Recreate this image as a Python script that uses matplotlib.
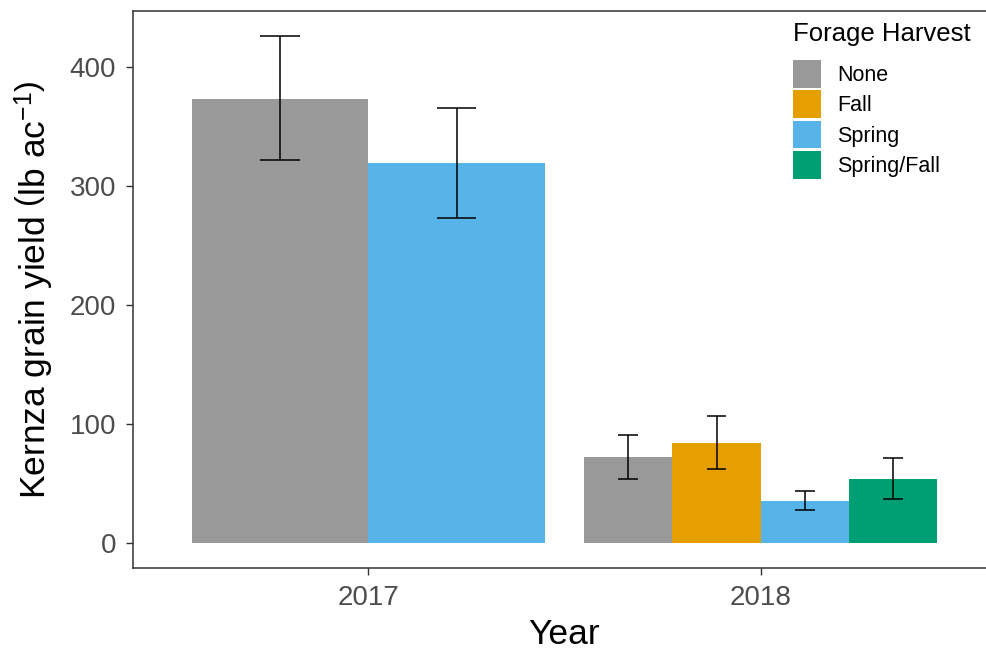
import matplotlib
matplotlib.use("Agg")
import matplotlib.pyplot as plt
from matplotlib.patches import Patch

plt.rcParams['font.family'] = ['Liberation Sans', 'DejaVu Sans']
plt.rcParams['mathtext.fontset'] = 'custom'
plt.rcParams['mathtext.rm'] = 'Liberation Sans'
plt.rcParams['mathtext.it'] = 'Liberation Sans:italic'

# ---- data ----
years = ['2017', '2018']
treatments = ['None', 'Fall', 'Spring', 'Spring/Fall']
colors = ['#999999', '#E69F00', '#56B4E9', '#009E73']

bar_year = ['2017', '2017', '2018', '2018', '2018', '2018']
bar_trt = ['None', 'Spring', 'None', 'Fall', 'Spring', 'Spring/Fall']
yield_mean = [373.0, 319.0, 71.6, 83.6, 35.2, 53.7]
err_low = [321.2, 272.8, 53.7, 61.5, 27.1, 36.9]
err_high = [425.4, 365.6, 90.6, 106.5, 43.6, 71.0]

# ---- figure ----
fig = plt.figure(figsize=(9.86, 6.49), dpi=100)
ax = fig.add_axes([133/986, 81/649, (996-133)/986, (568-11)/649])

dodge_total = 0.9
err_total = 0.2
ink = '#333333'

for yi, yr in enumerate(years):
    idx = [i for i, y in enumerate(bar_year) if y == yr]
    n = len(idx)
    w = dodge_total / n
    ew = err_total / n
    center = yi + 1
    for k, i in enumerate(idx):
        x = center - dodge_total / 2 + (k + 0.5) * w
        c = colors[treatments.index(bar_trt[i])]
        ax.bar(x, yield_mean[i], width=w, color=c, edgecolor='none', zorder=2)
        ax.vlines(x, err_low[i], err_high[i], color='black', lw=1.1, zorder=3)
        ax.hlines([err_low[i], err_high[i]], x - ew / 2, x + ew / 2,
                  color='black', lw=1.1, zorder=3)

ax.set_xlim(0.4, 2.6)
ax.set_ylim(-21.3, 446.7)
ax.set_xticks([1, 2])
ax.set_xticklabels(years)
ax.set_yticks([0, 100, 200, 300, 400])

ax.tick_params(axis='both', colors=ink, labelcolor='#4D4D4D',
               labelsize=20, length=5, width=1.0, direction='out')
ax.tick_params(axis='y', pad=7)
ax.tick_params(axis='x', pad=7)
for s in ax.spines.values():
    s.set_color(ink)
    s.set_linewidth(1.1)
ax.spines['right'].set_visible(False)

ax.set_xlabel('Year', fontsize=25.5, color='black', labelpad=5)
ax.set_ylabel(r'Kernza grain yield $\left(\mathrm{lb\ ac^{-1}}\right)$',
              fontsize=25.5, color='black', labelpad=10)

handles = [Patch(facecolor=c, edgecolor='none') for c in colors]
leg = ax.legend(handles, treatments, title='Forage Harvest',
                loc='upper left', bbox_to_anchor=(789/986, 1 - 18/649),
                bbox_transform=fig.transFigure,
                frameon=False, fontsize=15.5, title_fontsize=18.5,
                handlelength=1.3, handleheight=1.6, labelspacing=0.12,
                handletextpad=0.75, borderpad=0.2, borderaxespad=0)
leg._legend_box.align = 'left'
leg._legend_box.sep = 10

fig.savefig('out.png', dpi=100)
